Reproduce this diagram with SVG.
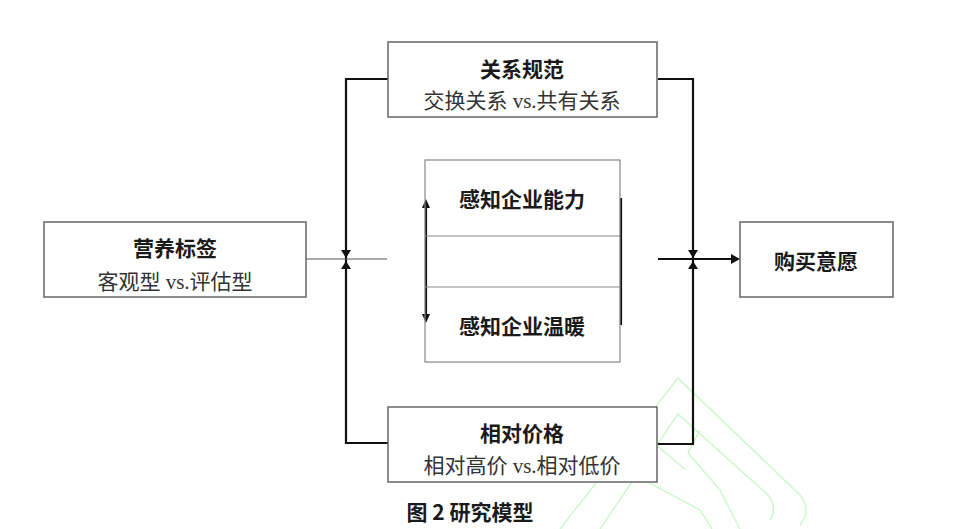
<svg xmlns="http://www.w3.org/2000/svg" width="956" height="529" viewBox="0 0 956 529">
<defs>
<style>
.box{fill:#fff;stroke:#666;stroke-width:1.5}
.inner{fill:none;stroke:#888;stroke-width:1.2}
.wire{fill:none;stroke:#111;stroke-width:2.2}
.thin{fill:none;stroke:#555;stroke-width:1.2}
.head{fill:#111}
.t{font-family:"Noto Sans CJK SC","Liberation Sans",sans-serif;font-weight:bold;font-size:21px;fill:#1a1a1a;text-anchor:middle;dominant-baseline:central}
.s{font-family:"Liberation Serif","Noto Sans CJK SC",serif;font-size:21px;fill:#333;text-anchor:middle;dominant-baseline:central}
.wm{fill:none;stroke:#b8f5b8;stroke-width:1.3;opacity:0.8}
</style>
</defs>
<g id="watermark">
<path class="wm" d="M560,529 L678,378 L800,495 Q812,510 800,525"/>
<path class="wm" d="M600,529 L678,414 L768,495 Q778,508 770,520"/>
<path class="wm" d="M700,430 L688,453 L720,490 L740,529"/>
<path class="wm" d="M640,478 L700,510 L712,529"/>
<path class="wm" d="M650,440 L686,470"/>
</g>
<g id="connectors">
<path class="wire" d="M388,79 H346 V443 H388"/>
<path class="wire" d="M658,79 H693 V444 H658"/>
<path class="thin" d="M306,259 H387"/>
<path class="wire" d="M658,259 H733"/>
<polygon class="head" points="740,259 731,254 731,264"/>
<polygon class="head" points="346,258 341,250 351,250"/>
<polygon class="head" points="346,261 341,269 351,269"/>
<polygon class="head" points="693,258 688,250 698,250"/>
<polygon class="head" points="693,261 688,269 698,269"/>
<path class="wire" d="M426,207 V315"/>
<polygon class="head" points="426,199 422,208 430,208"/>
<polygon class="head" points="426,323 422,314 430,314"/>
<path class="wire" d="M621,198 V325"/>
</g>
<g id="node-guanxi">
<rect class="box" x="388" y="42" width="269" height="75"/>
<text class="t" x="522" y="68">关系规范</text>
<text class="s" x="522" y="101">交换关系 vs.共有关系</text>
</g>
<g id="node-yingyang">
<rect class="box" x="44" y="222" width="262" height="75"/>
<text class="t" x="175" y="247">营养标签</text>
<text class="s" x="175" y="282">客观型 vs.评估型</text>
</g>
<g id="node-goumai">
<rect class="box" x="740" y="222" width="153" height="75"/>
<text class="t" x="816" y="260">购买意愿</text>
</g>
<g id="node-jiage">
<rect class="box" x="388" y="407" width="269" height="75"/>
<text class="t" x="522" y="432">相对价格</text>
<text class="s" x="522" y="466">相对高价 vs.相对低价</text>
</g>
<g id="node-mediators">
<rect class="inner" x="425" y="160" width="195" height="202"/>
<path class="inner" d="M425,236 H620 M425,287 H620"/>
<text class="t" x="522" y="198">感知企业能力</text>
<text class="t" x="522" y="325">感知企业温暖</text>
</g>
<g id="caption">
<text class="t" x="470" y="511">图 2 研究模型</text>
</g>
</svg>
